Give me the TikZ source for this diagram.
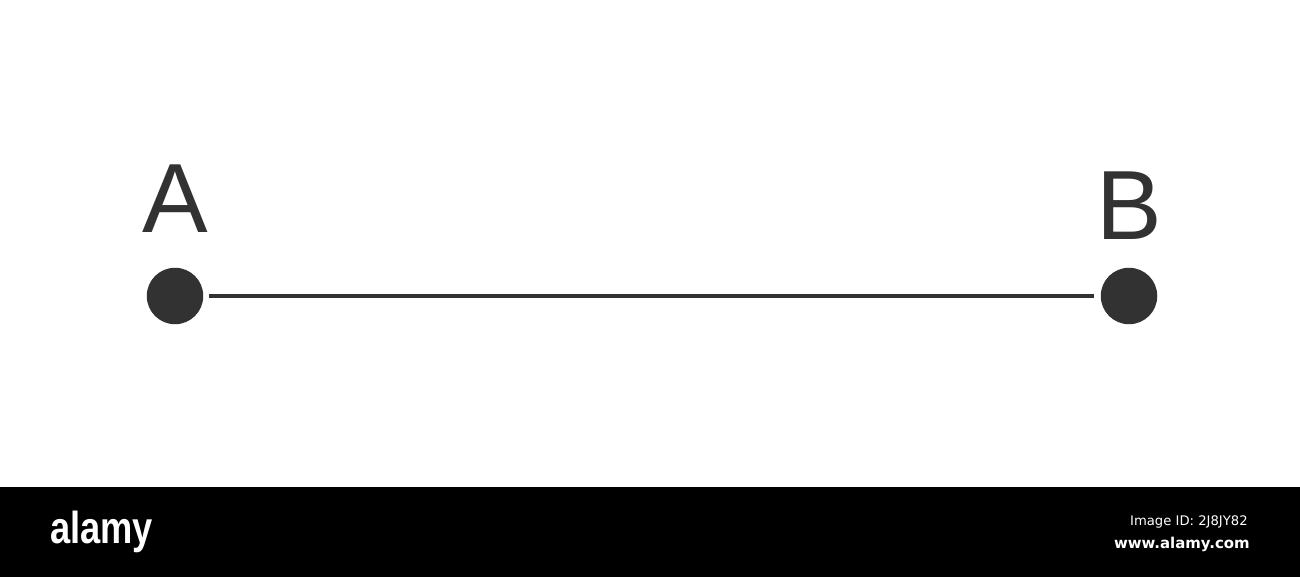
\documentclass[tikz,border=0pt]{standalone}
\usepackage{fontspec}
\setmainfont{Liberation Sans}
\newfontfamily\dejavu{DejaVu Sans}
\usepackage{tikz}
\definecolor{inkgray}{HTML}{323232}

\begin{document}
\begin{tikzpicture}[x=0.02cm,y=-0.02cm,
        point/.style={shape=circle,fill=inkgray,inner sep=0pt,minimum size=1.13cm},
        letter/.style={anchor=base,text=inkgray,font=\fontsize{56}{60}\selectfont}]
        \useasboundingbox (0,0) rectangle (1300,577);
        \fill[white] (0,0) rectangle (1300,487);
        \fill[black] (0,487) rectangle (1300,577);

        \node[point] (a) at (175, 296) {};
        \node[point] (b) at (1129, 296) {};
        \node[letter] (la) at (175.5, 233) {A};
        \node[letter] (lb) at (1129.5, 240) {B};

	\path[-,draw=inkgray,line width=2.3pt,shorten <=0.1cm,shorten >=0.12cm] (a) edge (b);

        \node[anchor=base west,text=white,inner sep=0pt,xscale=0.81,font=\bfseries\fontsize{25.5}{28}\selectfont] (logo) at (50, 543) {alamy};
        \node[anchor=base east,text=white,inner sep=0pt,font=\dejavu\fontsize{7.5}{9}\selectfont] (imgid) at (1248, 525) {Image ID: 2J8JY82};
        \node[anchor=base east,text=white,inner sep=0pt,font=\dejavu\bfseries\fontsize{8.5}{10}\selectfont] (site) at (1250, 548) {www.alamy.com};
\end{tikzpicture}
\end{document}
